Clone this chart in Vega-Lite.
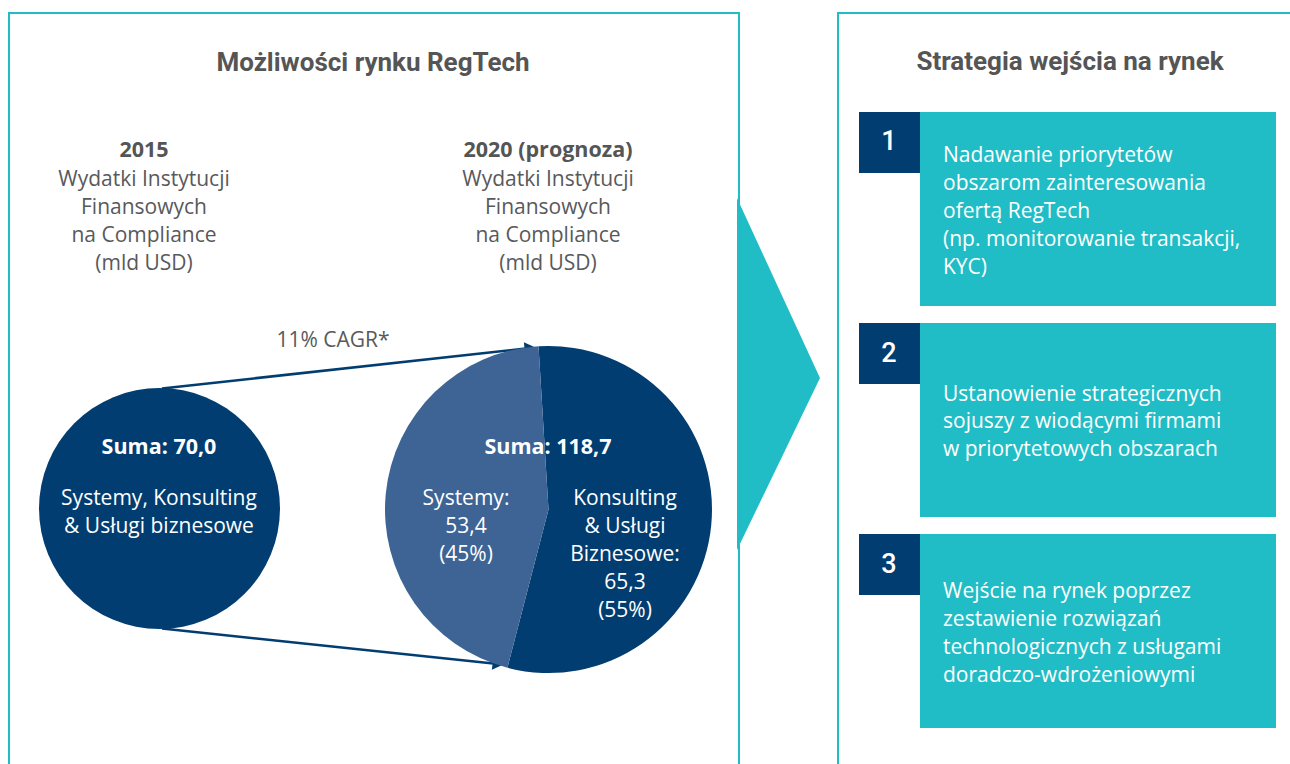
{
  "$schema": "https://vega.github.io/schema/vega-lite/v6.json",
  "width": 1290,
  "height": 764,
  "autosize": {"type": "fit", "contains": "padding"},
  "padding": 0,
  "background": "white",
  "config": {"view": {"stroke": null}},
  "datasets": {
    "panels": [
      {"panel": "Możliwości rynku RegTech", "x": 9, "x2": 739, "y": 13, "y2": 800},
      {"panel": "Strategia wejścia na rynek", "x": 838, "x2": 1300, "y": 13, "y2": 800}
    ],
    "chevron": [
      {"x": 737, "y": 198, "y2": 550},
      {"x": 820, "y": 378, "y2": 378}
    ],
    "steps": [
      {"step": "1", "y": 112, "y2": 306, "ny2": 173},
      {"step": "2", "y": 323, "y2": 517, "ny2": 384},
      {"step": "3", "y": 534, "y2": 728, "ny2": 595}
    ],
    "spend2015": [
      {"year": "2015", "segment": "Systemy, Konsulting & Usługi biznesowe", "value": 70.0, "x": 159.5, "y": 508.5}
    ],
    "spend2020": [
      {"year": "2020", "segment": "Konsulting & Usługi Biznesowe", "value": 65.3, "rank": 1, "x": 548.5, "y": 509.5},
      {"year": "2020", "segment": "Systemy", "value": 53.4, "rank": 2, "x": 548.5, "y": 509.5}
    ],
    "arrows": [
      {"arrow": "top", "x": 162, "y": 388.5},
      {"arrow": "top", "x": 530, "y": 348},
      {"arrow": "bottom", "x": 162, "y": 628.5},
      {"arrow": "bottom", "x": 498, "y": 664}
    ],
    "heads": [
      {"arrow": "top", "x": 530, "y": 348},
      {"arrow": "bottom", "x": 498, "y": 664}
    ],
    "titles": [
      {"t": "Możliwości rynku RegTech", "x": 373, "y": 63},
      {"t": "Strategia wejścia na rynek", "x": 1070, "y": 62}
    ],
    "subheads": [
      {"t": "2015", "x": 144, "y": 151},
      {"t": "2020 (prognoza)", "x": 548, "y": 151}
    ],
    "grayText": [
      {"t": "Wydatki Instytucji", "x": 144, "y": 180},
      {"t": "Finansowych", "x": 144, "y": 208},
      {"t": "na Compliance", "x": 144, "y": 236},
      {"t": "(mld USD)", "x": 144, "y": 264},
      {"t": "Wydatki Instytucji", "x": 548, "y": 180},
      {"t": "Finansowych", "x": 548, "y": 208},
      {"t": "na Compliance", "x": 548, "y": 236},
      {"t": "(mld USD)", "x": 548, "y": 264},
      {"t": "11% CAGR*", "x": 333, "y": 341}
    ],
    "sums": [
      {"t": "Suma: 70,0", "x": 159, "y": 448},
      {"t": "Suma: 118,7", "x": 548, "y": 448}
    ],
    "pieText": [
      {"t": "Systemy, Konsulting", "x": 159, "y": 499},
      {"t": "& Usługi biznesowe", "x": 159, "y": 527},
      {"t": "Systemy:", "x": 466, "y": 499},
      {"t": "53,4", "x": 466, "y": 527},
      {"t": "(45%)", "x": 466, "y": 555},
      {"t": "Konsulting", "x": 625, "y": 499},
      {"t": "& Usługi", "x": 625, "y": 527},
      {"t": "Biznesowe:", "x": 625, "y": 555},
      {"t": "65,3", "x": 625, "y": 583},
      {"t": "(55%)", "x": 625, "y": 611}
    ],
    "numbers": [
      {"t": "1", "x": 889, "y": 142},
      {"t": "2", "x": 889, "y": 354},
      {"t": "3", "x": 889, "y": 565}
    ],
    "stepText": [
      {"t": "Nadawanie priorytetów", "x": 943, "y": 156},
      {"t": "obszarom zainteresowania", "x": 943, "y": 184},
      {"t": "ofertą RegTech", "x": 943, "y": 212},
      {"t": "(np. monitorowanie transakcji,", "x": 943, "y": 240},
      {"t": "KYC)", "x": 943, "y": 268},
      {"t": "Ustanowienie strategicznych", "x": 943, "y": 395},
      {"t": "sojuszy z wiodącymi firmami", "x": 943, "y": 422},
      {"t": "w priorytetowych obszarach", "x": 943, "y": 450},
      {"t": "Wejście na rynek poprzez", "x": 943, "y": 592},
      {"t": "zestawienie rozwiązań", "x": 943, "y": 620},
      {"t": "technologicznych z usługami", "x": 943, "y": 648},
      {"t": "doradczo-wdrożeniowymi", "x": 943, "y": 676}
    ]
  },
  "layer": [
    {
      "data": {"name": "panels"},
      "mark": {"type": "rect", "fill": null, "stroke": "#21BDC6", "strokeWidth": 2, "clip": true},
      "encoding": {
        "x": {"field": "x", "type": "quantitative", "scale": {"domain": [0, 1290], "nice": false, "zero": false}, "axis": null},
        "x2": {"field": "x2"},
        "y": {"field": "y", "type": "quantitative", "scale": {"domain": [0, 764], "reverse": true, "nice": false, "zero": false}, "axis": null},
        "y2": {"field": "y2"}
      }
    },
    {
      "data": {"name": "chevron"},
      "mark": {"type": "area", "color": "#21BDC6", "opacity": 1},
      "encoding": {
        "x": {"field": "x", "type": "quantitative"},
        "y": {"field": "y", "type": "quantitative"},
        "y2": {"field": "y2"}
      }
    },
    {
      "data": {"name": "steps"},
      "mark": {"type": "rect", "color": "#21BDC6"},
      "encoding": {
        "x": {"datum": 920, "type": "quantitative"},
        "x2": {"datum": 1276},
        "y": {"field": "y", "type": "quantitative"},
        "y2": {"field": "y2"}
      }
    },
    {
      "data": {"name": "steps"},
      "mark": {"type": "rect", "color": "#023D71"},
      "encoding": {
        "x": {"datum": 859, "type": "quantitative"},
        "x2": {"datum": 920},
        "y": {"field": "y", "type": "quantitative"},
        "y2": {"field": "ny2"}
      }
    },
    {
      "data": {"name": "arrows"},
      "mark": {"type": "line", "color": "#023D71", "strokeWidth": 2.5},
      "encoding": {
        "x": {"field": "x", "type": "quantitative"},
        "y": {"field": "y", "type": "quantitative"},
        "detail": {"field": "arrow"}
      }
    },
    {
      "data": {"name": "heads"},
      "transform": [{"filter": "datum.arrow == 'top'"}],
      "mark": {"type": "point", "shape": "triangle-right", "filled": true, "color": "#023D71", "opacity": 1, "size": 160, "angle": -6.3},
      "encoding": {
        "x": {"field": "x", "type": "quantitative"},
        "y": {"field": "y", "type": "quantitative"}
      }
    },
    {
      "data": {"name": "heads"},
      "transform": [{"filter": "datum.arrow == 'bottom'"}],
      "mark": {"type": "point", "shape": "triangle-right", "filled": true, "color": "#023D71", "opacity": 1, "size": 160, "angle": 6.0},
      "encoding": {
        "x": {"field": "x", "type": "quantitative"},
        "y": {"field": "y", "type": "quantitative"}
      }
    },
    {
      "data": {"name": "spend2015"},
      "mark": {"type": "point", "shape": "circle", "filled": true, "color": "#023D71", "opacity": 1, "size": 58081},
      "encoding": {
        "x": {"field": "x", "type": "quantitative"},
        "y": {"field": "y", "type": "quantitative"}
      }
    },
    {
      "data": {"name": "spend2020"},
      "mark": {"type": "arc", "outerRadius": 163.5, "strokeWidth": 0},
      "encoding": {
        "x": {"field": "x", "type": "quantitative"},
        "y": {"field": "y", "type": "quantitative"},
        "theta": {"field": "value", "type": "quantitative", "stack": true, "scale": {"range": [-0.061, 6.2222]}},
        "order": {"field": "rank", "type": "quantitative"},
        "color": {"field": "segment", "type": "nominal", "legend": null, "scale": {"domain": ["Konsulting & Usługi Biznesowe", "Systemy"], "range": ["#023D71", "#3D6494"]}}
      }
    },
    {
      "data": {"name": "titles"},
      "mark": {"type": "text", "font": "Roboto", "fontWeight": "bold", "fontSize": 26, "color": "#555555", "align": "center", "baseline": "middle"},
      "encoding": {
        "x": {"field": "x", "type": "quantitative"},
        "y": {"field": "y", "type": "quantitative"},
        "text": {"field": "t"}
      }
    },
    {
      "data": {"name": "subheads"},
      "mark": {"type": "text", "font": "Open Sans", "fontWeight": "bold", "fontSize": 21.5, "letterSpacing": 0.4, "color": "#555555", "align": "center", "baseline": "middle"},
      "encoding": {
        "x": {"field": "x", "type": "quantitative"},
        "y": {"field": "y", "type": "quantitative"},
        "text": {"field": "t"}
      }
    },
    {
      "data": {"name": "grayText"},
      "mark": {"type": "text", "font": "Open Sans", "fontSize": 21, "letterSpacing": 0.9, "color": "#58595B", "align": "center", "baseline": "middle"},
      "encoding": {
        "x": {"field": "x", "type": "quantitative"},
        "y": {"field": "y", "type": "quantitative"},
        "text": {"field": "t"}
      }
    },
    {
      "data": {"name": "sums"},
      "mark": {"type": "text", "font": "Open Sans", "fontWeight": "bold", "fontSize": 21.5, "color": "white", "align": "center", "baseline": "middle"},
      "encoding": {
        "x": {"field": "x", "type": "quantitative"},
        "y": {"field": "y", "type": "quantitative"},
        "text": {"field": "t"}
      }
    },
    {
      "data": {"name": "pieText"},
      "mark": {"type": "text", "font": "Open Sans", "fontSize": 21, "letterSpacing": 0.9, "color": "white", "align": "center", "baseline": "middle"},
      "encoding": {
        "x": {"field": "x", "type": "quantitative"},
        "y": {"field": "y", "type": "quantitative"},
        "text": {"field": "t"}
      }
    },
    {
      "data": {"name": "numbers"},
      "mark": {"type": "text", "font": "Roboto", "fontSize": 27, "fontWeight": 500, "color": "white", "align": "center", "baseline": "middle"},
      "encoding": {
        "x": {"field": "x", "type": "quantitative"},
        "y": {"field": "y", "type": "quantitative"},
        "text": {"field": "t"}
      }
    },
    {
      "data": {"name": "stepText"},
      "mark": {"type": "text", "font": "Open Sans", "fontSize": 21, "letterSpacing": 0.9, "color": "white", "align": "left", "baseline": "middle"},
      "encoding": {
        "x": {"field": "x", "type": "quantitative"},
        "y": {"field": "y", "type": "quantitative"},
        "text": {"field": "t"}
      }
    }
  ]
}
